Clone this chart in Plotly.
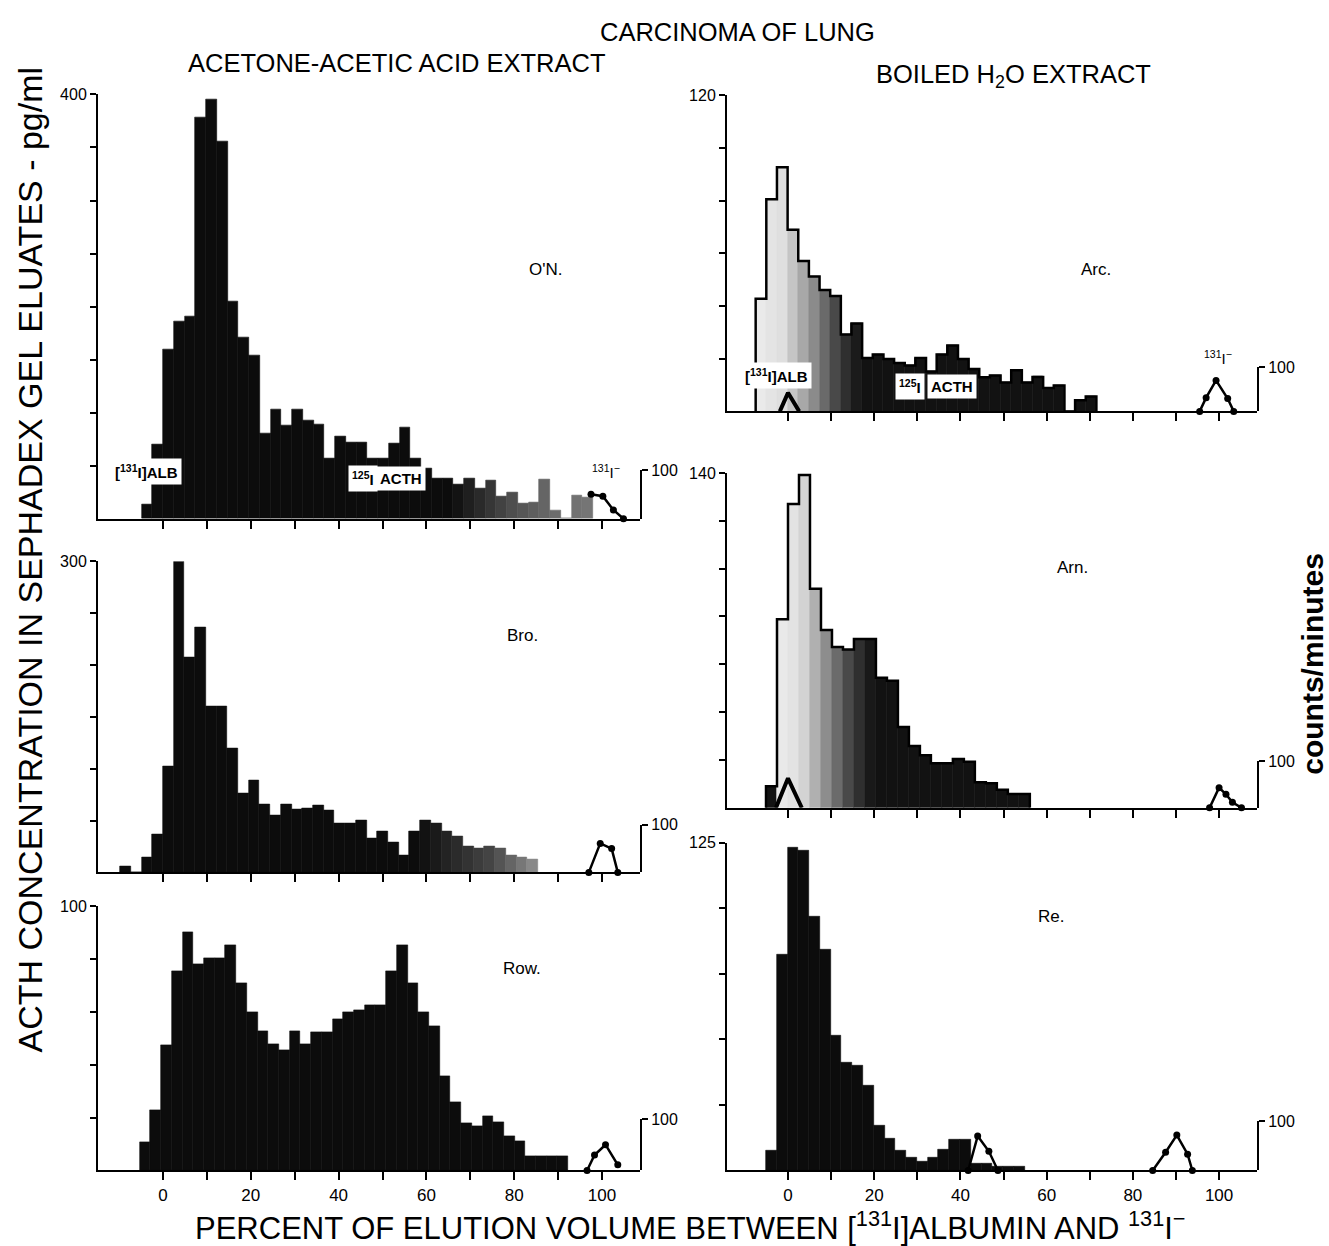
import plotly.graph_objects as go

W, H = 1329, 1246

# ---------------- data ----------------
# ACTH histograms: first bin left edge (% elution), bin width (%), bin heights (pg/ml)
on_start, on_width = -4.9, 2.45
on_vals = [13, 70, 160, 186, 191, 378, 395, 356, 205, 171, 154, 80, 103, 88, 103, 93,
           89, 57, 78, 72, 72, 57, 57, 71, 86, 57, 47, 38, 38, 32, 38, 29, 36, 21, 25,
           14, 15, 37, 8, 0, 22, 20]

bro_start, bro_width = -9.75, 2.44
bro_vals = [6, 0, 14, 37, 102, 300, 207, 236, 160, 160, 120, 76, 89, 66, 55, 66, 61, 62,
            65, 60, 47, 47, 50, 33, 40, 29, 16, 40, 50, 47, 40, 35, 25, 23, 25, 23, 16, 14, 13]

row_start, row_width = -5.3, 2.44
row_vals = [10.6, 22.8, 47.3, 75.5, 90.3, 78, 80.4, 80.4, 85.3, 71, 59.8, 52.7, 47.7, 45.6,
            52.7, 47.7, 52.4, 52.4, 57.4, 59.8, 60.8, 62.6, 62.6, 75.3, 85.4, 71, 59.9, 54.5,
            35.5, 25.7, 17.8, 16.6, 20.5, 18.4, 13.1, 11, 5.4, 5.4, 5.4, 5.4]

arc_start, arc_width = -7.5, 2.47
arc_vals = [42.8, 80.6, 92.7, 69, 57.1, 51.2, 46.1, 43.8, 29.2, 33.4, 20.3, 21.6, 19.9, 18.4,
            17.4, 20.3, 15.2, 21.6, 25, 19.9, 16.1, 13, 13.6, 11, 15.6, 11, 13.1, 8.9, 9.8,
            0, 4.2, 5.7]

arn_start, arn_width = -5.1, 2.55
arn_vals = [9, 78.8, 127, 139.2, 91.6, 74.4, 67.3, 66.2, 70.6, 70.6, 54.4, 53.1, 33.8, 25.9,
            22, 18.6, 18.6, 20.4, 19.3, 10.7, 10.3, 7.6, 5.8, 5.8]

re_start, re_width = -5.1, 2.5
re_vals = [7.6, 82.3, 123.1, 121.8, 96.6, 84.3, 51.5, 41, 39.8, 32.2, 17.3, 12, 7.6, 5, 3.4,
           5, 7.8, 11.6, 11.6, 2.8, 2.8, 1.5, 1.5, 1.5]

# radioactive markers, counts/minute (right-hand scale, 0-100)
on_i_x, on_i_y = [97.5, 100.2, 102.6, 104.9], [50, 46, 18, 0]
bro_i_x, bro_i_y = [97.0, 99.6, 102.2, 103.6], [0, 61, 50, 0]
row_i_x, row_i_y = [96.6, 98.3, 100.8, 103.6], [0, 30, 50, 11]
arc_alb_x, arc_alb_y = [-1.9, 0, 2.6], [0, 42, 0]
arc_i_x, arc_i_y = [95.5, 97, 99.3, 102, 103.4], [0, 31, 70, 29, 0]
arn_alb_x, arn_alb_y = [-2.8, 0, 3.2], [0, 63, 0]
arn_i_x, arn_i_y = [97.8, 100, 101.6, 103.1, 105.2], [0, 43, 29, 12, 0]
re_a_x, re_a_y = [41.8, 44, 46.6, 48.7], [0, 70, 39, 0]
re_b_x, re_b_y = [84.6, 87.6, 90.2, 92.7, 93.8], [0, 37, 72, 33, 0]

x_tick_vals = list(range(0, 101, 10))
x_tick_labels = ["0", "", "20", "", "40", "", "60", "", "80", "", "100"]

# ---------------- helpers ----------------
FONT = "Liberation Sans, Arial, sans-serif"


def gray_hex(v):
    v = int(round(max(0, min(255, v))))
    return "#%02x%02x%02x" % (v, v, v)


def shade(xs, stops):
    out = []
    for x in xs:
        if x <= stops[0][0]:
            g = stops[0][1]
        elif x >= stops[-1][0]:
            g = stops[-1][1]
        else:
            for (x0, g0), (x1, g1) in zip(stops[:-1], stops[1:]):
                if x0 <= x <= x1:
                    g = g0 + (g1 - g0) * (x - x0) / (x1 - x0)
                    break
        out.append(gray_hex(g))
    return out


def px(x, y):
    return x / W, 1 - y / H


# panel layout (pixel boxes): x-left, x-right, range
LEFT_X = (98, 640, -14.81, 108.66)
RIGHT_X = (727, 1257, -14.15, 108.8)

panels = [
    dict(start=on_start, w=on_width, vals=on_vals, col=LEFT_X, top=87, bot=514, ymax=400, step=50,
         frac=0.115, shade=[(-10, 12), (66, 12), (80, 80), (90, 110), (100, 120)], outline=False,
         label="O'N.", lab=(545, 252), bottom=False),
    dict(start=bro_start, w=bro_width, vals=bro_vals, col=LEFT_X, top=557, bot=870, ymax=300, step=50,
         frac=0.153, shade=[(-10, 12), (58, 12), (75, 70), (86, 150)], outline=False,
         label="Bro.", lab=(522, 632), bottom=False),
    dict(start=row_start, w=row_width, vals=row_vals, col=LEFT_X, top=904, bot=1170, ymax=100, step=20,
         frac=0.195, shade=[(-10, 12), (100, 12)], outline=False,
         label="Row.", lab=(522, 978), bottom=True),
    dict(start=arc_start, w=arc_width, vals=arc_vals, col=RIGHT_X, top=88, bot=406, ymax=120, step=20,
         frac=0.14, shade=[(-8, 238), (-1, 222), (6, 140), (12, 60), (17, 18), (100, 18)], outline=True,
         label="Arc.", lab=(1113, 252), bottom=False),
    dict(start=arn_start, w=arn_width, vals=arn_vals, col=RIGHT_X, top=468, bot=805, ymax=140, step=20,
         frac=0.14, shade=[(-3.6, 18), (-3.0, 238), (3, 222), (9, 140), (15, 60), (20, 18), (100, 18)],
         outline=True, label="Arn.", lab=(1090, 563), bottom=False),
    dict(start=re_start, w=re_width, vals=re_vals, col=RIGHT_X, top=840, bot=1170, ymax=125, step=25,
         frac=0.15, shade=[(-10, 12), (100, 12)], outline=False,
         label="Re.", lab=(1066, 926), bottom=True),
]

counts = [
    [(on_i_x, on_i_y, 2.5)],
    [(bro_i_x, bro_i_y, 2.5)],
    [(row_i_x, row_i_y, 2.5)],
    [(arc_alb_x, arc_alb_y, 4), (arc_i_x, arc_i_y, 2.5)],
    [(arn_alb_x, arn_alb_y, 4), (arn_i_x, arn_i_y, 2.5)],
    [(re_a_x, re_a_y, 2.5), (re_b_x, re_b_y, 2.5)],
]

fig = go.Figure()
layout = dict(width=W, height=H, margin=dict(l=0, r=0, t=0, b=0),
              paper_bgcolor="white", plot_bgcolor="rgba(0,0,0,0)", showlegend=False,
              bargap=0, font=dict(family=FONT, color="black"))
annotations = []

for i, p in enumerate(panels, start=1):
    xk = "xaxis" if i == 1 else "xaxis%d" % i
    yk = "yaxis" if i == 1 else "yaxis%d" % i
    ck = "yaxis%d" % (6 + i)
    xr = "x" if i == 1 else "x%d" % i
    yr = "y" if i == 1 else "y%d" % i
    cr = "y%d" % (6 + i)
    xl, xrgt, r0, r1 = p["col"]
    d0, d1 = 1 - p["bot"] / H, 1 - p["top"] / H

    n = len(p["vals"])
    centers = [p["start"] + p["w"] * (k + 0.5) for k in range(n)]
    cols = shade(centers, p["shade"])
    fig.add_trace(go.Bar(x=centers, y=p["vals"], width=p["w"],
                         marker=dict(color=cols, line=dict(color=cols, width=0.6)),
                         xaxis=xr, yaxis=yr, hoverinfo="skip"))
    if p["outline"]:
        ex = [p["start"]] + [p["start"] + p["w"] * k for k in range(n)] + [p["start"] + p["w"] * n] * 2
        ey = [0] + list(p["vals"]) + [p["vals"][-1], 0]
        fig.add_trace(go.Scatter(x=ex, y=ey, mode="lines", line=dict(color="black", width=2.5, shape="hv"),
                                 xaxis=xr, yaxis=yr, hoverinfo="skip", cliponaxis=False))

    for cx, cy, lw in counts[i - 1]:
        thick = lw > 3
        fig.add_trace(go.Scatter(x=cx, y=cy, mode="lines" if thick else "lines+markers",
                                 line=dict(color="black", width=lw),
                                 marker=dict(color="black", size=7),
                                 xaxis=xr, yaxis=cr, cliponaxis=False, hoverinfo="skip"))

    layout[xk] = dict(domain=[xl / W, xrgt / W], range=[r0, r1], anchor=yr,
                      showline=True, linewidth=2, linecolor="black", mirror=False,
                      ticks="outside", ticklen=8, tickwidth=2, tickcolor="black",
                      tickvals=x_tick_vals,
                      ticktext=x_tick_labels if p["bottom"] else [""] * len(x_tick_vals),
                      tickfont=dict(size=17, family=FONT), showgrid=False, zeroline=False)
    yt = list(range(p["step"], p["ymax"] + 1, p["step"]))
    layout[yk] = dict(domain=[d0, d1], range=[0, p["ymax"]], anchor=xr,
                      showline=True, linewidth=2, linecolor="black",
                      ticks="outside", ticklen=6, tickwidth=1.5, tickcolor="black",
                      tickvals=yt, ticktext=[""] * (len(yt) - 1) + [str(p["ymax"])],
                      tickfont=dict(size=16, family=FONT), showgrid=False, zeroline=False)
    layout[ck] = dict(domain=[d0, d0 + p["frac"] * (d1 - d0)], range=[0, 100], anchor=xr, side="right",
                      showline=True, linewidth=2, linecolor="black",
                      ticks="outside", ticklen=6, tickwidth=2, tickcolor="black",
                      tickvals=[100], ticktext=["100"], tickfont=dict(size=16, family=FONT),
                      showgrid=False, zeroline=False)
    lx, ly = px(*p["lab"])
    annotations.append(dict(x=lx, y=ly, xref="paper", yref="paper", text=p["label"], showarrow=False,
                            font=dict(size=17, family=FONT)))


def add_text(text, x, y, size, angle=0, bold=False, box=False, family=FONT):
    ax, ay = px(x, y)
    a = dict(x=ax, y=ay, xref="paper", yref="paper", text="<b>%s</b>" % text if bold else text,
             showarrow=False, textangle=angle, font=dict(size=size, family=family, color="black"),
             xanchor="center", yanchor="middle")
    if box:
        a.update(bgcolor="white", borderpad=3)
    annotations.append(a)


add_text("CARCINOMA OF LUNG", 737, 24, 25.5)
add_text("ACETONE-ACETIC ACID EXTRACT", 397, 55, 25.5)
add_text("BOILED H<sub>2</sub>O EXTRACT", 1013, 68, 25.5)
add_text("ACTH CONCENTRATION IN SEPHADEX GEL ELUATES - pg/ml", 30, 555, 34, angle=-90)
add_text("counts/minutes", 1313, 660, 30, angle=-90, bold=True)
add_text("PERCENT OF ELUTION VOLUME BETWEEN [<sup>131</sup>I]ALBUMIN AND <sup>131</sup>I<sup>−</sup>",
         690, 1226, 31)

# marker labels inside the panels
add_text("[<sup>131</sup>I]ALB", 146, 466, 15, bold=True, box=True)
add_text("<sup>125</sup>I", 363, 474, 15, bold=True, box=True)
add_text("ACTH", 401, 474, 15, bold=True, box=True)
add_text("<sup>131</sup>I<sup>−</sup>", 606, 466, 15)
add_text("[<sup>131</sup>I]ALB", 776, 370, 15, bold=True, box=True)
add_text("<sup>125</sup>I", 910, 381, 15, bold=True, box=True)
add_text("ACTH", 952, 381, 15, bold=True, box=True)
add_text("<sup>131</sup>I<sup>−</sup>", 1218, 352, 15)

layout["annotations"] = annotations
fig.update_layout(**layout)
fig.write_html("out.html")
